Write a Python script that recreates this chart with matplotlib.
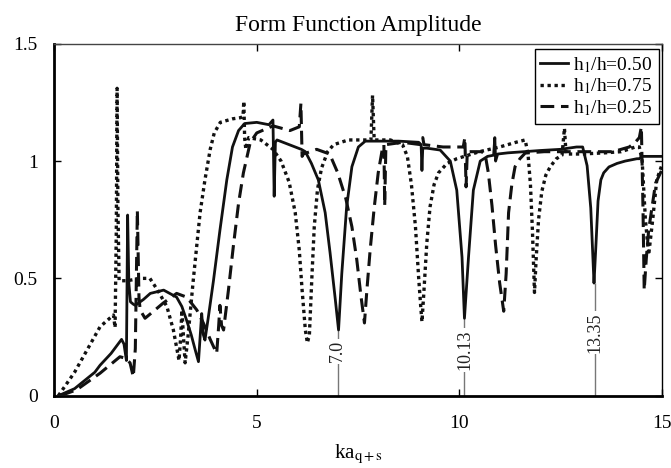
import matplotlib
matplotlib.use('Agg')
import matplotlib.pyplot as plt

plt.rcParams['font.family'] = ['Liberation Serif', 'DejaVu Serif']
plt.rcParams['mathtext.fontset'] = 'stix'

# h1/h = 0.50 (solid)
x_050 = [0.1, 0.5, 1.0, 1.13, 1.4, 1.66, 1.72, 1.78, 1.81, 1.84, 1.88, 1.95, 2.0, 2.2, 2.37, 2.7,
         3.02, 3.15, 3.27, 3.38, 3.48, 3.56, 3.62, 3.64, 3.68, 3.72, 3.8, 3.93, 4.09, 4.26, 4.4,
         4.55, 4.7, 5.0, 5.3, 5.4, 5.43, 5.46, 5.5, 5.8, 6.1, 6.2, 6.35, 6.52, 6.69, 6.81, 6.94,
         7.02, 7.1, 7.22, 7.35, 7.51, 7.68, 8.0, 8.5, 9.0, 9.06, 9.08, 9.1, 9.2, 9.53, 9.78, 9.94,
         10.07, 10.13, 10.23, 10.35, 10.52, 10.7, 10.85, 10.88, 10.9, 10.95, 11.2, 11.6, 12.0,
         12.5, 12.9, 13.05, 13.16, 13.25, 13.3, 13.33, 13.38, 13.43, 13.5, 13.57, 13.7, 13.9,
         14.1, 14.39, 14.45, 14.5, 15.0]
y_050 = [0.0, 0.03, 0.1, 0.13, 0.18, 0.24, 0.22, 0.15, 0.77, 0.48, 0.4, 0.39, 0.385, 0.41, 0.436,
         0.45, 0.42, 0.38, 0.32, 0.26, 0.195, 0.145, 0.3, 0.35, 0.26, 0.237, 0.33, 0.49, 0.705,
         0.92, 1.06, 1.13, 1.16, 1.165, 1.155, 1.175, 0.85, 1.08, 1.09, 1.07, 1.05, 1.04, 0.99,
         0.92, 0.78, 0.61, 0.41, 0.28, 0.52, 0.805, 0.976, 1.06, 1.085, 1.085, 1.085, 1.08, 1.07,
         0.96, 1.055, 1.055, 1.047, 1.0, 0.876, 0.59, 0.33, 0.59, 0.876, 1.0, 1.02, 1.025, 1.1,
         1.0, 1.03, 1.035, 1.04, 1.045, 1.05, 1.06, 1.06, 0.98, 0.8, 0.6, 0.48, 0.65, 0.83, 0.92,
         0.95, 0.975, 0.99, 1.0, 1.01, 1.01, 1.02, 1.02]

# h1/h = 0.75 (dotted)
x_075 = [0.1, 0.5, 1.13, 1.46, 1.5, 1.53, 1.55, 1.57, 1.6, 1.8, 2.12, 2.36, 2.55, 2.78, 2.94,
         3.08, 3.12, 3.15, 3.19, 3.23, 3.3, 3.43, 3.6, 3.72, 3.85, 3.95, 4.1, 4.4, 4.6, 4.66,
         4.68, 4.7, 4.73, 4.8, 5.1, 5.4, 5.6, 5.8, 5.95, 6.05, 6.12, 6.2, 6.25, 6.3, 6.36, 6.42,
         6.5, 6.6, 6.75, 6.9, 7.26, 7.82, 7.86, 7.9, 8.3, 8.6, 8.72, 8.82, 8.92, 9.0, 9.05, 9.08,
         9.12, 9.2, 9.28, 9.38, 9.49, 9.7, 9.94, 10.5, 11.0, 11.4, 11.63, 11.7, 11.76, 11.81,
         11.86, 11.9, 11.96, 12.04, 12.14, 12.25, 12.4, 12.54, 12.6, 12.64, 13.0, 13.6, 14.0,
         14.35, 14.45, 14.52, 14.6, 14.68, 14.78, 14.88, 15.0]
y_075 = [0.0, 0.1, 0.294, 0.344, 0.29, 0.7, 1.31, 0.8, 0.49, 0.49, 0.5, 0.5, 0.45, 0.38, 0.28,
         0.15, 0.25, 0.365, 0.25, 0.14, 0.25, 0.49, 0.78, 0.92, 1.05, 1.12, 1.165, 1.18, 1.185,
         1.19, 1.255, 1.1, 1.05, 1.1, 1.09, 1.05, 1.0, 0.91, 0.78, 0.62, 0.45, 0.28, 0.225, 0.26,
         0.5, 0.72, 0.88, 0.97, 1.04, 1.07, 1.09, 1.09, 1.28, 1.09, 1.09, 1.07, 1.02, 0.9, 0.72,
         0.5, 0.38, 0.315, 0.42, 0.65, 0.805, 0.9, 0.95, 0.99, 1.01, 1.04, 1.06, 1.08, 1.09, 1.03,
         0.9, 0.7, 0.44, 0.58, 0.75, 0.87, 0.94, 0.976, 1.01, 1.025, 1.14, 1.03, 1.03, 1.035, 1.04,
         1.06, 1.06, 1.0, 0.75, 0.6, 0.75, 0.92, 0.98]

# h1/h = 0.25 (dashed)
x_025 = [0.15, 0.55, 1.13, 1.62, 1.75, 1.87, 1.95, 2.0, 2.05, 2.09, 2.12, 2.24, 2.45, 2.69,
         3.02, 3.27, 3.52, 3.68, 3.85, 4.01, 4.06, 4.09, 4.13, 4.18, 4.3, 4.42, 4.55, 4.67, 4.84,
         5.0, 5.4, 5.82, 6.05, 6.09, 6.12, 6.15, 6.48, 6.8, 7.0, 7.2, 7.35, 7.47, 7.57, 7.66,
         7.72, 7.8, 7.9, 8.0, 8.1, 8.14, 8.16, 8.19, 8.6, 9.05, 9.1, 9.13, 9.6, 10.1, 10.14,
         10.17, 10.2, 10.55, 10.64, 10.72, 10.81, 10.9, 11.0, 11.1, 11.16, 11.22, 11.3, 11.38,
         11.5, 11.63, 12.1, 12.6, 13.2, 13.8, 14.2, 14.35, 14.45, 14.5, 14.54, 14.57, 14.62,
         14.68, 14.85, 15.0]
y_025 = [0.0, 0.025, 0.096, 0.166, 0.16, 0.14, 0.08, 0.2, 0.79, 0.42, 0.365, 0.33, 0.36, 0.395,
         0.436, 0.42, 0.365, 0.31, 0.24, 0.18, 0.3, 0.385, 0.3, 0.28, 0.45, 0.635, 0.82, 0.95,
         1.08, 1.12, 1.15, 1.13, 1.146, 1.245, 1.02, 1.03, 1.05, 1.03, 0.95, 0.84, 0.72, 0.58,
         0.43, 0.31, 0.45, 0.62, 0.8, 0.95, 1.05, 1.07, 0.81, 1.07, 1.08, 1.07, 1.1, 1.07, 1.06,
         1.06, 1.1, 0.89, 1.04, 1.04, 1.03, 0.95, 0.81, 0.64, 0.48, 0.36, 0.52, 0.78, 0.9, 0.976,
         1.01, 1.034, 1.04, 1.04, 1.04, 1.04, 1.06, 1.08, 1.1, 1.146, 0.8, 0.45, 0.58, 0.706,
         0.905, 0.96]

labels = ['h$_1$/h=0.50', 'h$_1$/h=0.75', 'h$_1$/h=0.25']

# marked minima of the 0.50 curve
mark_x = [7.0, 10.13, 13.35]
mark_top = [0.28, 0.33, 0.48]
mark_text = ['7.0', '10.13', '13.35']
mark_ty = [0.19, 0.195, 0.27]

fig = plt.figure(figsize=(6.71, 4.68), dpi=100)
ax = fig.add_axes([0.081, 0.1545, 0.905, 0.752])

for xm, yt, tx, ty in zip(mark_x, mark_top, mark_text, mark_ty):
    ax.vlines(xm, 0, yt, color='#777777', lw=1.0, zorder=1)
    ax.text(xm, ty, tx, rotation=90, ha='center', va='center', fontsize=13, color='#222222',
            bbox=dict(facecolor='white', edgecolor='none', pad=1.0), zorder=2)

ax.plot(x_050, y_050, color='#111111', lw=2.0, ls='-', label=labels[0], zorder=4)
ax.plot(x_075, y_075, color='#111111', lw=2.4, ls=(0, (1, 1.1)), label=labels[1], zorder=3)
ax.plot(x_025, y_025, color='#111111', lw=2.2, ls=(0, (4.5, 2.2)), label=labels[2], zorder=3)

ax.set_xlim(0, 15)
ax.set_ylim(0, 1.5)
ax.set_xticks([0, 5, 10, 15])
ax.set_yticks([0, 0.5, 1, 1.5])
ax.set_yticklabels(['0', '0.5', '1', '1.5'])
ax.tick_params(direction='in', top=True, right=True, length=5, width=1, labelsize=14)
ax.tick_params(axis='x', pad=14)
ax.tick_params(axis='y', pad=12)

for s in ['left', 'bottom']:
    ax.spines[s].set_linewidth(2.0)
for s in ['top', 'right']:
    ax.spines[s].set_linewidth(1.0)
ax.spines['top'].set_color('#444444')

ax.set_title('Form Function Amplitude', fontsize=17, pad=9)
ax.set_xlabel(r'ka$_{\mathrm{q+s}}$', fontsize=15, labelpad=8)

leg = ax.legend(loc='upper right', bbox_to_anchor=(0.995, 0.985), borderaxespad=0,
                fontsize=14, handlelength=1.4, handletextpad=0.3, labelspacing=0.1,
                borderpad=0.3, fancybox=False, framealpha=1, edgecolor='black')
leg.get_frame().set_linewidth(1.0)

fig.savefig('out.png', dpi=100)
